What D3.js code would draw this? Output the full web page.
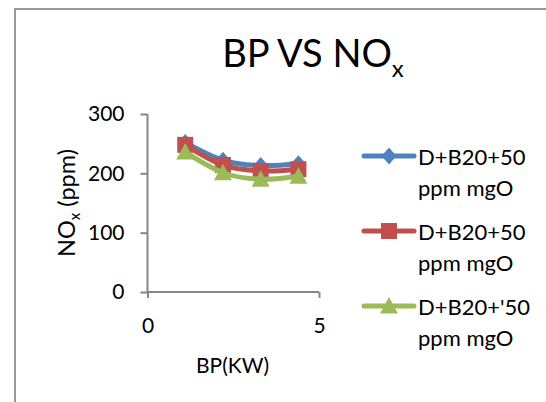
<!DOCTYPE html>
<html>
<head>
<meta charset="utf-8">
<script src="https://cdn.jsdelivr.net/npm/d3@7/dist/d3.min.js"></script>
<style>
  html, body { margin: 0; padding: 0; background: #fff; }
  svg { display: block; font-family: Lato, "Open Sans", sans-serif; }
</style>
</head>
<body>
<svg id="chart" width="546" height="402"></svg>
<script>
// ---- data ----
const bp = [1.1, 2.2, 3.3, 4.4];
const seriesNames = ["D+B20+50", "D+B20+50", "D+B20+'50"];
const seriesSub = ["ppm mgO", "ppm mgO", "ppm mgO"];
const noxBlue = [252, 222, 213, 216];
const noxRed = [248, 214, 204, 207];
const noxGreen = [236, 201, 190, 195];
const xTicks = [0, 5];
const yTicks = [0, 100, 200, 300];
const colors = ["#4F81BD", "#C0504D", "#9BBB59"];
const markers = ["diamond", "square", "triangle"];

const series = [noxBlue, noxRed, noxGreen].map((vals, i) => ({
  name: seriesNames[i], sub: seriesSub[i], color: colors[i], marker: markers[i],
  points: bp.map((x, j) => ({ x, y: vals[j] }))
}));

const svg = d3.select("#chart");
const axisColor = "#868686";

// outer border
svg.append("path")
  .attr("d", "M15,402 L15,9 L546,9")
  .attr("fill", "none").attr("stroke", "#9a9a9a").attr("stroke-width", 2);

const x = d3.scaleLinear().domain([0, 5]).range([147.5, 319]);
const y = d3.scaleLinear().domain([0, 300]).range([292, 114]);

// title
const title = svg.append("text")
  .attr("x", 313).attr("y", 67)
  .attr("text-anchor", "middle")
  .attr("font-size", 38).attr("fill", "#000");
title.append("tspan").text("BP VS NO");
title.append("tspan").attr("font-size", 24).attr("dy", 10).text("x");

// axes
const yAxis = svg.append("g").attr("transform", `translate(${x(0)},0)`)
  .call(d3.axisLeft(y).tickValues(yTicks).tickSize(7).tickPadding(16).tickFormat(d3.format("d")));
const xAxis = svg.append("g").attr("transform", `translate(0,${y(0)})`)
  .call(d3.axisBottom(x).tickValues(xTicks).tickSize(6).tickPadding(20).tickFormat(d3.format("d")));

[yAxis, xAxis].forEach(g => {
  g.select(".domain").attr("stroke", axisColor).attr("stroke-width", 2);
  g.selectAll(".tick line").attr("stroke", axisColor).attr("stroke-width", 2);
  g.selectAll(".tick text").attr("fill", "#000").attr("font-size", 21)
    .attr("font-family", "Lato, 'Open Sans', sans-serif");
});
yAxis.select(".domain").attr("d", `M0,${y(300)}V${y(0)}`);
xAxis.select(".domain").attr("d", `M${x(0)},0H${x(5)}`);
xAxis.selectAll(".tick text").attr("dy", null).attr("y", 0).attr("dominant-baseline", null)
  .attr("transform", "translate(0,41)");

// axis titles
svg.append("text").attr("x", 232.5).attr("y", 373)
  .attr("text-anchor", "middle").attr("font-size", 21).text("BP(KW)");

const yl = svg.append("text")
  .attr("transform", `translate(75,${(y(0) + y(300)) / 2}) rotate(-90)`)
  .attr("text-anchor", "middle").attr("font-size", 23.5);
yl.append("tspan").text("NO");
yl.append("tspan").attr("font-size", 15).attr("dy", 5).text("x");
yl.append("tspan").attr("dy", -5).text(" (ppm)");

// marker helper
function drawMarker(g, type, cx, cy, color) {
  if (type === "diamond") {
    g.append("path").attr("d", `M${cx},${cy - 8.5}L${cx + 7.5},${cy}L${cx},${cy + 8.5}L${cx - 7.5},${cy}Z`)
      .attr("fill", color);
  } else if (type === "square") {
    g.append("rect").attr("x", cx - 8).attr("y", cy - 8).attr("width", 16).attr("height", 16)
      .attr("fill", color);
  } else {
    g.append("path").attr("d", `M${cx},${cy - 9}L${cx + 9},${cy + 7.5}L${cx - 9},${cy + 7.5}Z`)
      .attr("fill", color);
  }
}

// lines + markers
const line = d3.line().x(d => x(d.x)).y(d => y(d.y)).curve(d3.curveCatmullRom.alpha(0));
series.forEach(s => {
  const g = svg.append("g");
  g.append("path").datum(s.points).attr("d", line)
    .attr("fill", "none").attr("stroke", s.color).attr("stroke-width", 5)
    .attr("stroke-linejoin", "round").attr("stroke-linecap", "round");
  s.points.forEach(p => drawMarker(g, s.marker, x(p.x), y(p.y), s.color));
});

// legend
const legendY = [156, 231, 306];
series.forEach((s, i) => {
  const g = svg.append("g");
  const ly = legendY[i];
  g.append("line").attr("x1", 364).attr("x2", 414).attr("y1", ly).attr("y2", ly)
    .attr("stroke", s.color).attr("stroke-width", 5).attr("stroke-linecap", "round");
  drawMarker(g, s.marker, 389, ly, s.color);
  g.append("text").attr("x", 418).attr("y", ly + 9).attr("font-size", 22).text(s.name);
  g.append("text").attr("x", 418).attr("y", ly + 40).attr("font-size", 22).text(s.sub);
});
</script>
</body>
</html>
